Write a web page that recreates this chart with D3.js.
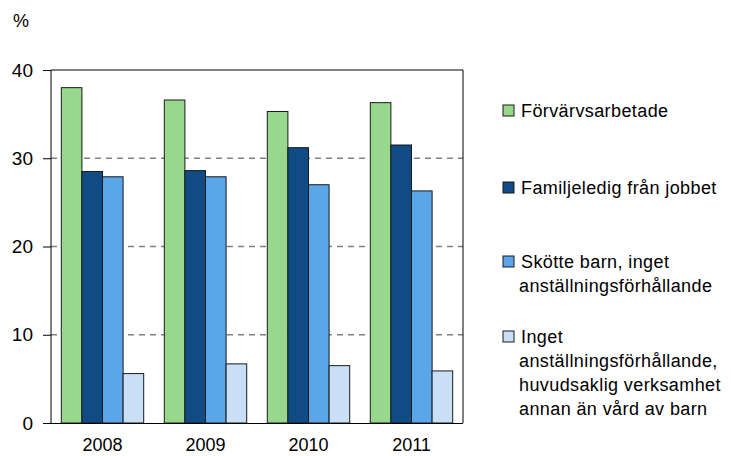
<!DOCTYPE html>
<html>
<head>
  <meta charset="utf-8">
  <script src="https://d3js.org/d3.v7.min.js"></script>
  <style>
    body { margin: 0; background: #fff; }
    text { font-family: "Liberation Sans", Arial, sans-serif; font-size: 18px; fill: #000; }
    .grid line { stroke: #808080; stroke-dasharray: 6,5; stroke-width: 1.3; }
    .axis path, .axis line { stroke: #000; }
    .legend text { letter-spacing: 0.4px; }
  </style>
</head>
<body>
<div id="chartArea"></div>
<script>
  // values
  var years = ["2008", "2009", "2010", "2011"];
  var legendLines = [["Förvärvsarbetade"], ["Familjeledig från jobbet"],
                     ["Skötte barn, inget", "anställningsförhållande"],
                     ["Inget", "anställningsförhållande,", "huvudsaklig verksamhet", "annan än vård av barn"]];
  var forvarvs = [38.0, 36.6, 35.3, 36.3];
  var familjeledig = [28.5, 28.6, 31.2, 31.5];
  var skotte = [27.9, 27.9, 27.0, 26.3];
  var inget = [5.6, 6.7, 6.5, 5.9];
  var yTicks = [0, 10, 20, 30, 40];
  var colors = ["#98d88d", "#104c83", "#5ba6e8", "#c8dff6"];

  var series = [forvarvs, familjeledig, skotte, inget];

  var w = 731, h = 456;
  var m = {left: 51, top: 70, right: 268, bottom: 33};

  var svg = d3.select("#chartArea").append("svg")
      .attr("width", w).attr("height", h);

  var x0 = d3.scaleBand().domain(years).range([m.left, w - m.right]).paddingInner(0.2).paddingOuter(0.1);
  var x1 = d3.scaleBand().domain(d3.range(series.length)).range([0, x0.bandwidth()]);
  var y = d3.scaleLinear().domain([0, 40]).range([h - m.bottom, m.top]);

  // dashed gridlines
  svg.append("g").attr("class", "grid")
    .selectAll("line").data(yTicks.filter(function(d) { return d > 0 && d < 40; }))
    .enter().append("line")
    .attr("x1", m.left).attr("x2", w - m.right)
    .attr("y1", function(d) { return y(d); }).attr("y2", function(d) { return y(d); });

  // bars
  years.forEach(function(yr, i) {
    svg.append("g").selectAll("rect")
      .data(series.map(function(s, k) { return {k: k, v: s[i]}; }))
      .enter().append("rect")
      .attr("x", function(d) { return x0(yr) + x1(d.k); })
      .attr("y", function(d) { return y(d.v); })
      .attr("width", x1.bandwidth())
      .attr("height", function(d) { return y(0) - y(d.v); })
      .attr("fill", function(d) { return colors[d.k]; })
      .attr("stroke", "#1a1a1a").attr("stroke-width", 1);
  });

  // frame: top and right
  svg.append("line").attr("x1", m.left).attr("x2", w - m.right).attr("y1", y(40)).attr("y2", y(40)).attr("stroke", "#000");
  svg.append("line").attr("x1", w - m.right).attr("x2", w - m.right).attr("y1", y(40)).attr("y2", y(0)).attr("stroke", "#000");

  // axes
  var yAxis = d3.axisLeft(y).tickValues(yTicks).tickSize(8).tickPadding(10);
  svg.append("g").attr("class", "axis").attr("transform", "translate(" + m.left + ",0)").call(yAxis)
    .call(function(g) { g.select(".domain").remove(); g.selectAll("text").style("font-size", "19px"); });
  svg.append("line").attr("x1", m.left).attr("x2", m.left).attr("y1", y(40)).attr("y2", y(0)).attr("stroke", "#000");

  var xAxis = d3.axisBottom(x0).tickSize(0).tickPadding(15);
  svg.append("g").attr("class", "axis").attr("transform", "translate(0," + y(0) + ")").call(xAxis)
    .call(function(g) { g.select(".domain").attr("d", "M" + (m.left - 8) + ",0.5H" + (w - m.right)); g.selectAll("text").style("font-size", "18px"); });

  svg.append("text").attr("x", 13).attr("y", 27).text("%").style("font-size", "18px");

  // legend
  var legY = [111, 188, 262, 337];
  var lg = svg.append("g").attr("class", "legend").selectAll("g").data(legendLines).enter().append("g")
    .attr("transform", function(d, i) { return "translate(503," + legY[i] + ")"; });
  lg.append("rect").attr("x", 0).attr("y", -6).attr("width", 11).attr("height", 11)
    .attr("fill", function(d, i) { return colors[i]; }).attr("stroke", "#1a1a1a");
  lg.append("text").attr("x", 18).attr("y", 6)
    .selectAll("tspan").data(function(d) { return d; }).enter().append("tspan")
    .attr("x", function(d, j) { return j === 0 ? 18 : 16; })
    .attr("dy", function(d, j) { return j === 0 ? 0 : 24; })
    .text(function(d) { return d; });
</script>
</body>
</html>
